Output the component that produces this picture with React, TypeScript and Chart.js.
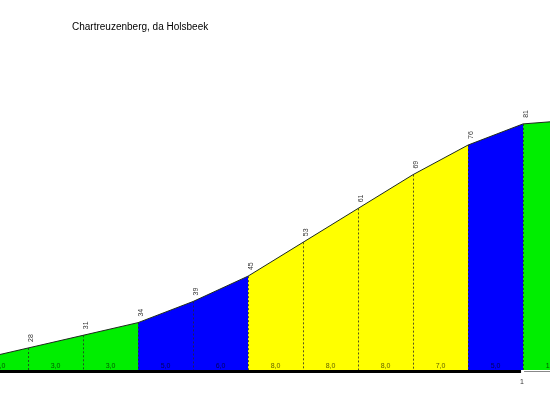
import React, { useEffect, useRef } from "react";
import { Chart, registerables } from "chart.js";

Chart.register(...registerables);

const TITLE = "Chartreuzenberg, da Holsbeek";
const distances = [0, 100, 200, 300, 400, 500, 600, 700, 800, 900, 1000, 1100];
const elevations = [25, 28, 31, 34, 39, 45, 53, 61, 69, 76, 81, 82];
const gradeLabels = ["3,0", "3,0", "3,0", "5,0", "6,0", "8,0", "8,0", "8,0", "7,0", "5,0", "1,0"];
const segmentColors = ["#00ee00", "#0000ff", "#ffff00", "#0000ff", "#00ee00"];
const segmentBounds = [[0, 3], [3, 5], [5, 9], [9, 10], [10, 11]];
const kmTicks = [1000];
const kmTickLabels = ["1"];

export default function App() {
  const ref = useRef<HTMLCanvasElement>(null);
  useEffect(() => {
    if (!ref.current) return;
    const datasets = segmentBounds.map(([a, b], i) => ({
      data: distances.slice(a, b + 1).map((d, k) => ({ x: d, y: elevations[a + k] })),
      borderColor: "#1d2a1d",
      borderWidth: 1,
      backgroundColor: segmentColors[i],
      fill: "start" as const,
      pointRadius: 0,
      tension: 0,
    }));
    const overlay = {
      id: "overlay",
      afterDatasetsDraw(chart: any) {
        const ctx = chart.ctx;
        const xs = chart.scales.x;
        const ys = chart.scales.y;
        const base = chart.chartArea.bottom;
        ctx.save();
        // dotted verticals
        ctx.setLineDash([2, 2]);
        ctx.strokeStyle = "rgba(40,40,40,0.8)";
        ctx.lineWidth = 1;
        for (let i = 1; i < distances.length - 1; i++) {
          const px = Math.round(xs.getPixelForValue(distances[i])) + 0.5;
          ctx.beginPath();
          ctx.moveTo(px, ys.getPixelForValue(elevations[i]));
          ctx.lineTo(px, base);
          ctx.stroke();
        }
        ctx.setLineDash([]);
        // grade labels
        ctx.font = "7px Arial, 'Liberation Sans'";
        ctx.fillStyle = "rgba(0,0,0,0.65)";
        ctx.textAlign = "center";
        ctx.textBaseline = "middle";
        for (let i = 0; i < gradeLabels.length; i++) {
          const mid = (distances[i] + distances[i + 1]) / 2;
          ctx.fillText(gradeLabels[i], xs.getPixelForValue(mid), base - 4);
        }
        // elevation labels (rotated)
        ctx.fillStyle = "#333";
        for (let i = 0; i < distances.length; i++) {
          const px = xs.getPixelForValue(distances[i]);
          const py = ys.getPixelForValue(elevations[i]);
          ctx.save();
          ctx.translate(px + 3, py - 10);
          ctx.rotate(-Math.PI / 2);
          ctx.fillText(String(elevations[i]), 0, 0);
          ctx.restore();
        }
        // baseline
        const kmPx = xs.getPixelForValue(kmTicks[0]);
        ctx.fillStyle = "#000";
        ctx.fillRect(0, base, kmPx - 2, 3);
        ctx.fillStyle = "#888";
        ctx.fillRect(kmPx + 1, base + 1, chart.width - kmPx, 1);
        ctx.fillStyle = "#333";
        ctx.font = "7px Arial, 'Liberation Sans'";
        kmTicks.forEach((t, i) => {
          ctx.fillText(kmTickLabels[i], xs.getPixelForValue(t) - 1, base + 12);
        });
        // title
        ctx.fillStyle = "#000";
        ctx.font = "10px Arial, 'Liberation Sans'";
        ctx.textAlign = "left";
        ctx.fillText(TITLE, 72, 27);
        ctx.restore();
      },
    };
    const chart = new Chart(ref.current, {
      type: "line",
      data: { datasets },
      options: {
        animation: false,
        responsive: true,
        maintainAspectRatio: false,
        layout: { padding: { top: 0, bottom: 30, left: 0, right: 0 } },
        plugins: { legend: { display: false }, tooltip: { enabled: false }, title: { display: false } },
        scales: {
          x: { type: "linear", min: 49, max: 1049, display: false },
          y: { min: 22.8, max: 110.3, display: false },
        },
      },
      plugins: [overlay],
    });
    return () => chart.destroy();
  }, []);
  return (
    <div style={{ position: "absolute", left: 0, top: 0, width: 550, height: 400, background: "#fff" }}>
      <canvas ref={ref} />
    </div>
  );
}
